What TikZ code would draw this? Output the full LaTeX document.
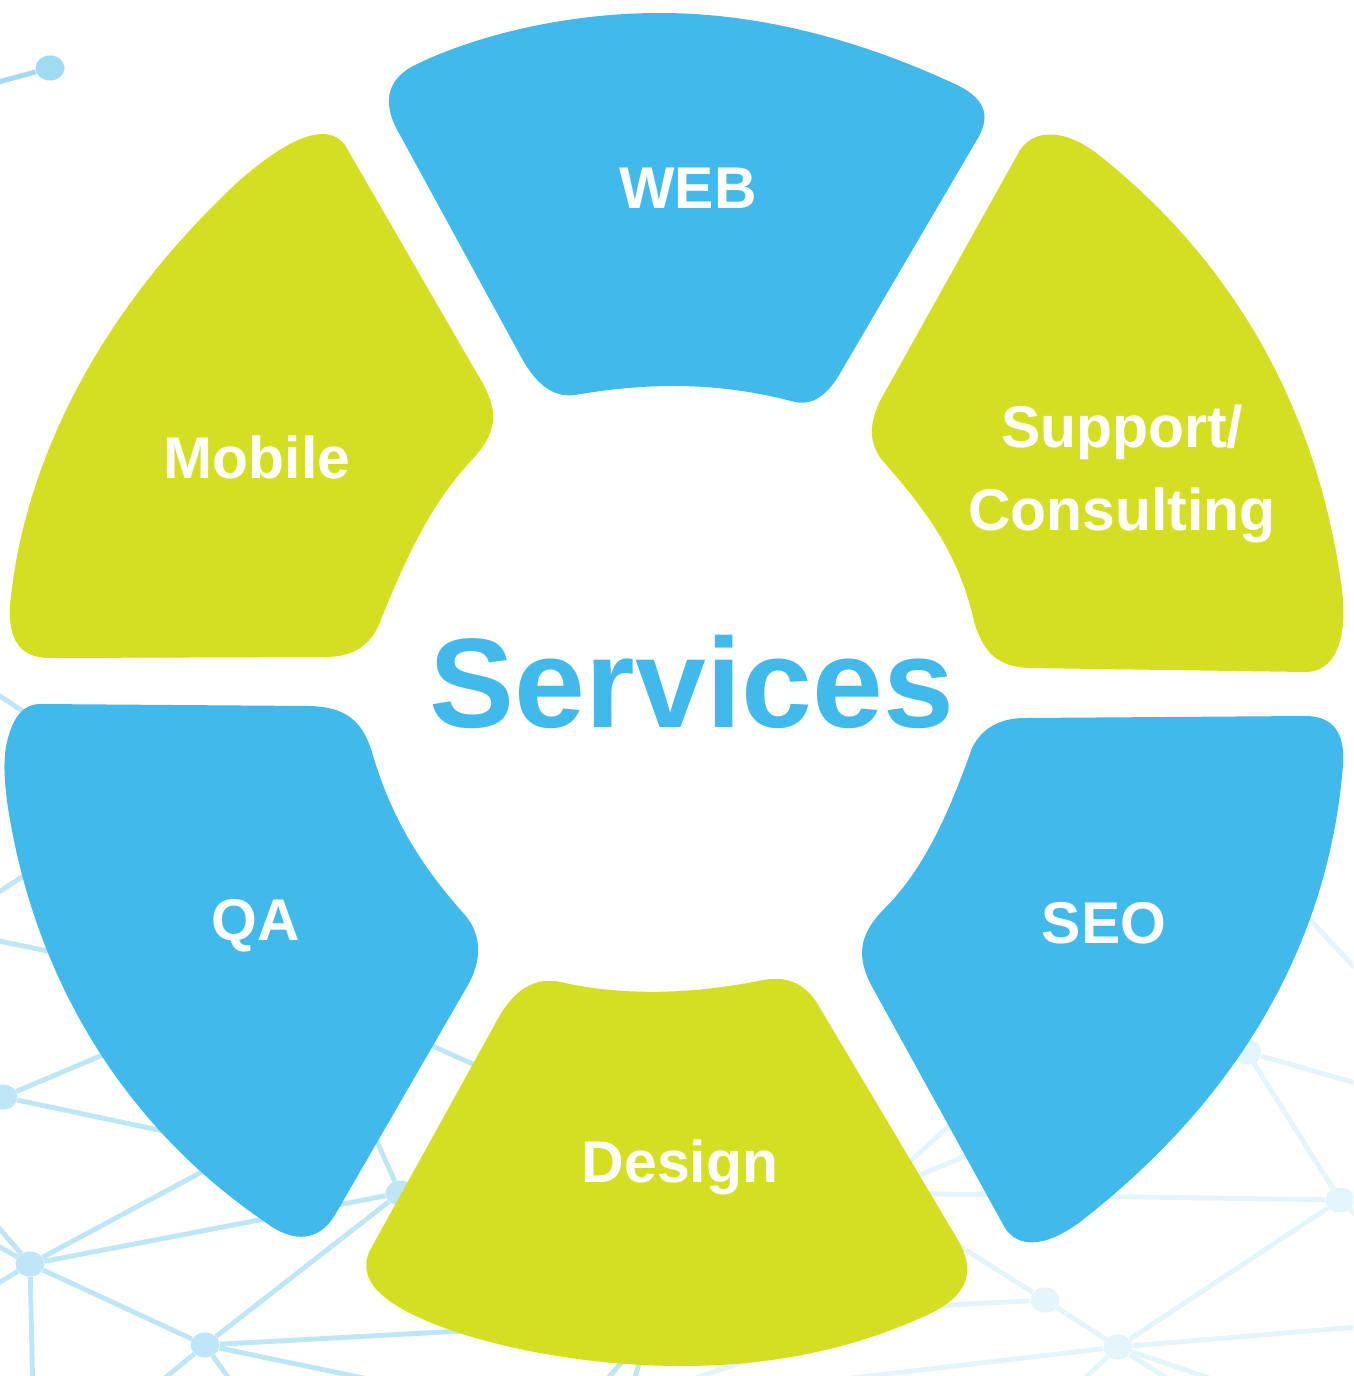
\documentclass[tikz,border=0pt]{standalone}
\usepackage{fontspec}
\setmainfont{Liberation Sans}
\usetikzlibrary{shapes.geometric}
\definecolor{segblue}{HTML}{41B9EA}
\definecolor{seggreen}{HTML}{D4DF23}
\definecolor{netleft}{HTML}{BEE6F7}
\definecolor{netright}{HTML}{E4F4FB}
\definecolor{nettop}{HTML}{9FDBF3}

\begin{document}
\begin{tikzpicture}[x=0.02cm, y=-0.02cm,
    netline/.style={line width=2.8pt},
    netdot/.style={ellipse, inner sep=0pt, minimum width=0.58cm, minimum height=0.5cm},
    seglabel/.style={text=white, font=\fontsize{33.5}{47}\selectfont\bfseries, align=center}]
    \useasboundingbox (0,0) rectangle (1353,1376);
    \clip (0,0) rectangle (1353,1376);

    % network in the background
    \node[netdot, fill=nettop] (ntop) at (50,68) {};
    \coordinate (otop) at (-20,87);
    \draw[netline, nettop] (otop) -- (ntop);

    \node[netdot, fill=netleft] (na) at (3,1097) {};
    \node[netdot, fill=netleft] (nb) at (30,1264) {};
    \node[netdot, fill=netleft] (nc) at (400,1193) {};
    \node[netdot, fill=netleft] (nd) at (205,1345) {};
    \node[netdot, fill=netright] (ne) at (1045,1300) {};
    \node[netdot, fill=netright] (nf) at (1118,1347) {};
    \node[netdot, fill=netright] (ng) at (1340,1200) {};
    \node[netdot, fill=netright] (nh) at (1247,1052) {};

    % hidden ends behind the ring
    \coordinate (qa1) at (150,795);
    \coordinate (qa2) at (250,993);
    \coordinate (qa3) at (300,1160);
    \coordinate (qa4) at (280,1130);
    \coordinate (qa5) at (345,1070);
    \coordinate (qa6) at (330,1000);
    \coordinate (ds0) at (620,1130);
    \coordinate (ds1) at (875,1193);
    \coordinate (dm) at (700,1318);
    \coordinate (dn1) at (650,1328);
    \coordinate (dn2) at (820,1336);
    \coordinate (se1) at (1000,1080);
    \coordinate (se2) at (1050,1122);
    \coordinate (se3) at (1180,1040);
    \coordinate (se4) at (1250,855);

    % free ends outside the page
    \coordinate (o1) at (-20,683);
    \coordinate (o2) at (-20,904);
    \coordinate (o3) at (-20,937);
    \coordinate (o4) at (-20,1206);
    \coordinate (o5) at (-20,1236);
    \coordinate (o6) at (-20,1294);
    \coordinate (o7) at (33,1400);
    \coordinate (o8) at (143,1396);
    \coordinate (o9) at (240,1394);
    \coordinate (o10) at (450,1396);
    \coordinate (o11) at (590,1400);
    \coordinate (o12) at (628,1400);
    \coordinate (o13) at (660,1390);
    \coordinate (o14) at (800,1384);
    \coordinate (o15) at (1065,1397);
    \coordinate (o16) at (1196,1397);
    \coordinate (o17) at (1265,1397);
    \coordinate (o18) at (1380,1325);
    \coordinate (o19) at (1380,1240);
    \coordinate (o20) at (1380,1090);
    \coordinate (o21) at (1380,995);

    \draw[netline, netleft] (o1) -- (qa1) -- (o2)
        (o3) -- (qa2) -- (na) -- (qa3)
        (o4) -- (nb) -- (qa4)
        (o5) -- (nb) -- (o6)
        (nb) -- (o7)
        (nb) -- (nc) -- (nd) -- (nb)
        (qa5) -- (nc)
        (qa6) -- (ds0)
        (nd) -- (dm)
        (nd) -- (o8) (nd) -- (o9) (nd) -- (o10)
        (o11) -- (dn1) -- (o12);
    \draw[netline, netright] (dm) -- (ne) -- (nf) -- (ng) -- (nh) -- (se3)
        (ne) -- (ds1) -- (ng)
        (ds1) -- (se1) (ds1) -- (se2)
        (o13) -- (dn2)
        (nf) -- (o14) (nf) -- (o15) (nf) -- (o16) (nf) -- (o17) (nf) -- (o18)
        (ng) -- (o19)
        (nh) -- (o20)
        (se4) -- (o21);

    % WEB
    \fill[segblue] (400,135) -- (520,355) .. controls (535,383) and (552,398) .. (575,395)
        .. controls (650,382) and (720,382) .. (795,402) .. controls (815,406) and (830,392) .. (842,370)
        -- (978,138) .. controls (992,114) and (983,97) .. (955,84)
        .. controls (860,40) and (760,13) .. (660,13) .. controls (560,13) and (470,38) .. (415,65)
        .. controls (385,80) and (382,105) .. (400,135) -- cycle;
    % Support / Consulting
    \fill[seggreen] (1020,150) .. controls (1035,128) and (1065,130) .. (1095,152)
        .. controls (1240,265) and (1320,420) .. (1342,590) .. controls (1348,640) and (1335,672) .. (1305,672)
        -- (1030,668) .. controls (1000,667) and (985,655) .. (975,625)
        .. controls (960,560) and (935,520) .. (882,460) .. controls (868,442) and (868,420) .. (885,392) -- cycle;
    % SEO
    \fill[segblue] (1025,718) -- (1305,716) .. controls (1335,716) and (1345,735) .. (1343,765)
        .. controls (1330,930) and (1250,1090) .. (1080,1222) .. controls (1045,1248) and (1018,1248) .. (1005,1228)
        -- (875,992) .. controls (855,958) and (858,935) .. (885,908)
        .. controls (925,868) and (950,810) .. (972,748) .. controls (982,728) and (1000,718) .. (1025,718) -- cycle;
    % Design
    \fill[seggreen] (369,1252) -- (500,1015) .. controls (518,985) and (540,976) .. (565,983)
        .. controls (630,997) and (700,993) .. (763,980) .. controls (790,975) and (808,986) .. (820,1008)
        -- (958,1240) .. controls (978,1275) and (965,1298) .. (925,1316)
        .. controls (850,1350) and (770,1366) .. (682,1366) .. controls (580,1366) and (480,1345) .. (420,1318)
        .. controls (372,1296) and (360,1275) .. (369,1252) -- cycle;
    % QA
    \fill[segblue] (40,704) -- (310,706) .. controls (345,707) and (362,720) .. (372,752)
        .. controls (390,815) and (420,865) .. (465,915) .. controls (482,935) and (482,960) .. (468,985)
        -- (335,1215) .. controls (320,1240) and (295,1245) .. (265,1222)
        .. controls (130,1130) and (40,990) .. (10,820) .. controls (3,780) and (3,755) .. (8,738)
        .. controls (14,715) and (25,704) .. (40,704) -- cycle;
    % Mobile
    \fill[seggreen] (345,145) -- (475,370) .. controls (500,410) and (500,430) .. (470,462)
        .. controls (430,505) and (405,560) .. (380,622) .. controls (370,648) and (350,657) .. (325,657)
        -- (50,658) .. controls (20,658) and (8,640) .. (10,605)
        .. controls (25,450) and (110,300) .. (240,180) .. controls (280,145) and (325,118) .. (345,145) -- cycle;

    % labels
    \node[seglabel, anchor=base] (web) at (688,208) {WEB};
    \node[seglabel] (support) at (1122,474) {Support/\\Consulting};
    \node[seglabel, anchor=base] (seo) at (1104,943) {SEO};
    \node[seglabel, anchor=base] (design) at (680,1182) {Design};
    \node[seglabel, anchor=base] (qa) at (256,940) {QA};
    \node[seglabel, anchor=base] (mobile) at (257,478) {Mobile};
    \node[text=segblue, font=\fontsize{72.5}{80}\selectfont\bfseries, anchor=base] (services) at (692,727) {Services};
\end{tikzpicture}
\end{document}
